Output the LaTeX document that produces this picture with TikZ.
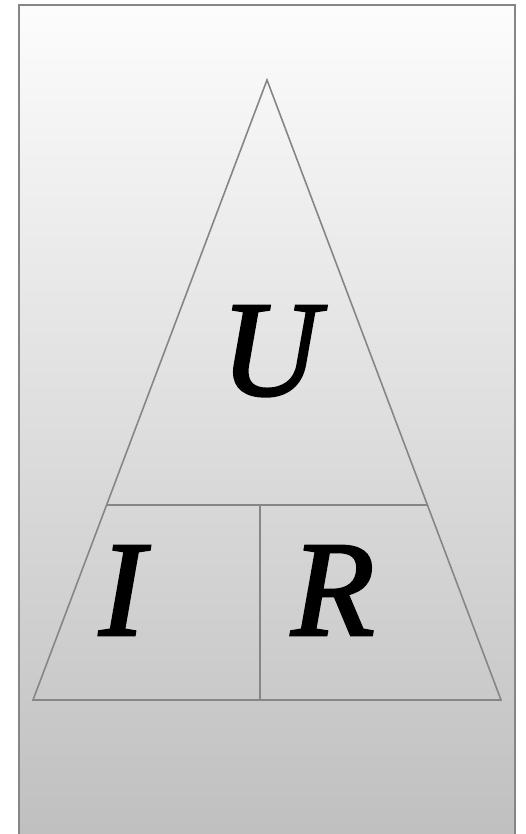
\documentclass[tikz,border=0pt]{standalone}
\usepackage{fontspec}
\setmainfont{Liberation Serif}
\newfontfamily\buchfont[FakeBold=2]{Liberation Serif}
\usetikzlibrary{calc}

\begin{document}
\begin{tikzpicture}[x=1pt, y=-1pt,
  rand/.style={draw=gray!95, line width=1.6pt},
  linie/.style={draw=gray!95, line width=1.6pt},
  buchst/.style={font=\buchfont\fontsize{136}{136}\selectfont\itshape, inner sep=0pt, anchor=base}
]
\useasboundingbox (0,0) rectangle (526,834);
% Hintergrund
\shade[top color=black!1, bottom color=black!25] (19,5) rectangle (515,840);
\draw[rand] (19,840) -- (19,5) -- (515,5) -- (515,840);

% Dreieck
\coordinate (spitze) at (267,80);
\coordinate (links) at (33,700);
\coordinate (rechts) at (501,700);
\draw[linie, line join=miter] (spitze) -- (links) -- (rechts) -- cycle;
\coordinate (ql) at ($(spitze)!0.685!(links)$);
\coordinate (qr) at ($(spitze)!0.685!(rechts)$);
\draw[linie] (ql) -- (qr);
\coordinate (mo) at (260,505);
\coordinate (mu) at (260,700);
\draw[linie] (mo) -- (mu);

\node[buchst] (u) at (270,395) {U};
\node[buchst] (i) at (122,635) {I};
\node[buchst] (r) at (333,635) {R};
\end{tikzpicture}
\end{document}
